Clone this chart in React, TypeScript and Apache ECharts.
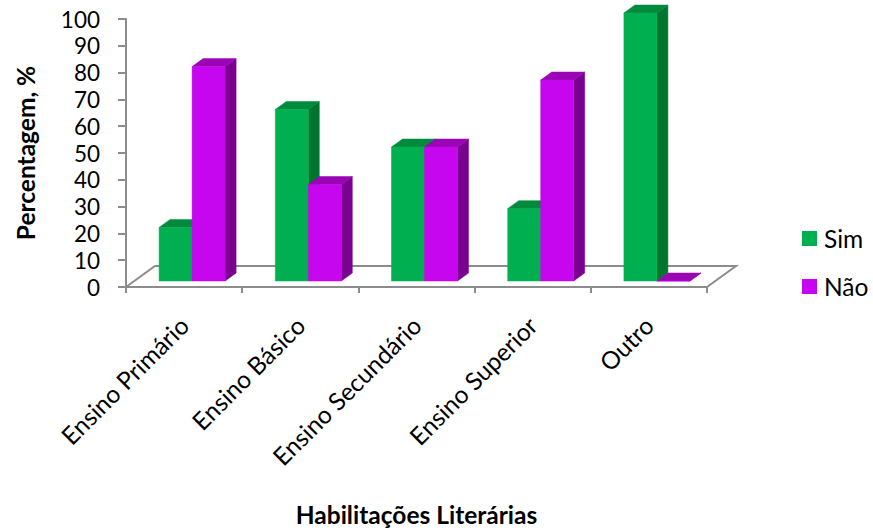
import React, { useEffect, useRef } from "react";
import * as echarts from "echarts";

const categories = ["Ensino Primário", "Ensino Básico", "Ensino Secundário", "Ensino Superior", "Outro"];
const simValues = [20, 64, 50, 27, 100];
const naoValues = [80, 36, 50, 75, 0];
const yTicks = { min: 0, max: 100, interval: 10 };

const FONT = "Lato";
const AXIS_GREY = "#8c8c8c";
const SIM = { front: "#00b050", top: "#008a3e", side: "#00752f" };
const NAO = { front: "#c506ee", top: "#9a04b4", side: "#7a0090" };

// Floor depth in pixels, and the shift of the bars onto the middle of that floor.
const FLOOR_DX = 29;
const FLOOR_DY = -21;
const BAR_SHIFT_X = 8;
const BAR_SHIFT_Y = -6;
const BAR_DX = 11;
const BAR_DY = -8;
const BAR_WIDTH_RATIO = 33 / 116.2;

// Draws one 3D column: front face, top and right side, from a category index and value.
function columnSeries(name: string, values: number[], colors: typeof SIM, side: -1 | 0) {
  return {
    name,
    type: "custom",
    coordinateSystem: "cartesian2d",
    itemStyle: { color: colors.front },
    encode: { x: 0, y: 1 },
    data: values.map((v, i) => [i, v]),
    z: 3 + (side === 0 ? 1 : 0),
    renderItem: (_p: any, api: any) => {
      const i = api.value(0);
      const top = api.coord([i, api.value(1)]);
      const base = api.coord([i, 0]);
      const w = api.size([1, 0])[0] * BAR_WIDTH_RATIO;
      const x0 = top[0] + BAR_SHIFT_X + (side === -1 ? -w : 0);
      const x1 = x0 + w;
      const yT = top[1] + BAR_SHIFT_Y;
      const yB = base[1] + BAR_SHIFT_Y;
      const poly = (points: number[][], fill: string) => ({
        type: "polygon",
        shape: { points },
        style: { fill, stroke: fill, lineWidth: 0.5 },
      });
      return {
        type: "group",
        children: [
          poly([[x1, yB], [x1 + BAR_DX, yB + BAR_DY], [x1 + BAR_DX, yT + BAR_DY], [x1, yT]], colors.side),
          poly([[x0, yT], [x0 + BAR_DX, yT + BAR_DY], [x1 + BAR_DX, yT + BAR_DY], [x1, yT]], colors.top),
          poly([[x0, yB], [x1, yB], [x1, yT], [x0, yT]], colors.front),
        ],
      };
    },
  };
}

// The floor outline behind the columns, anchored to the ends of the category axis.
const floorSeries = {
  type: "custom",
  coordinateSystem: "cartesian2d",
  silent: true,
  z: 1,
  data: [[0, 0]],
  renderItem: (_p: any, api: any) => {
    const band = api.size([1, 0])[0];
    const first = api.coord([0, 0]);
    const last = api.coord([categories.length - 1, 0]);
    const a = [first[0] - band / 2, first[1]];
    const b = [last[0] + band / 2, last[1]];
    return {
      type: "polyline",
      shape: {
        points: [a, [a[0] + FLOOR_DX, a[1] + FLOOR_DY], [b[0] + FLOOR_DX, b[1] + FLOOR_DY], b],
      },
      style: { fill: "none", stroke: AXIS_GREY, lineWidth: 2 },
    };
  },
};

export default function App() {
  const ref = useRef<HTMLDivElement>(null);
  useEffect(() => {
    document.body.style.margin = "0";
    const chart = echarts.init(ref.current!, undefined, { renderer: "svg" });
    chart.setOption({
      animation: false,
      backgroundColor: "#ffffff",
      textStyle: { fontFamily: FONT, color: "#000" },
      grid: { left: 126, top: 19, width: 581, height: 268, containLabel: false, outerBoundsMode: "none" },
      legend: {
        orient: "vertical",
        left: 797,
        top: 221,
        icon: "rect",
        itemWidth: 15,
        itemHeight: 15,
        itemGap: 23,
        data: ["Sim", "Não"],
        textStyle: { fontFamily: FONT, fontSize: 24.5, color: "#000", padding: [0, 0, 0, 2] },
      },
      xAxis: {
        type: "category",
        data: categories,
        name: "Habilitações Literárias",
        nameLocation: "middle",
        nameGap: 215,
        nameTextStyle: { fontFamily: FONT, fontSize: 24.5, fontWeight: "bold", color: "#000" },
        axisLine: { lineStyle: { color: AXIS_GREY, width: 2 } },
        axisTick: { show: true, length: 6, alignWithLabel: false, lineStyle: { color: AXIS_GREY, width: 2 } },
        axisLabel: { rotate: 45, interval: 0, margin: 34, fontFamily: FONT, fontSize: 24.5, color: "#000" },
        splitLine: { show: false },
      },
      yAxis: {
        type: "value",
        min: yTicks.min,
        max: yTicks.max,
        interval: yTicks.interval,
        name: "Percentagem, %",
        nameLocation: "middle",
        nameGap: 88,
        nameTextStyle: { fontFamily: FONT, fontSize: 24.5, fontWeight: "bold", color: "#000" },
        axisLine: { show: true, lineStyle: { color: AXIS_GREY, width: 2 } },
        axisTick: { show: true, length: 8, lineStyle: { color: AXIS_GREY, width: 2 } },
        axisLabel: { margin: 26, fontFamily: FONT, fontSize: 22.5, color: "#000" },
        splitLine: { show: false },
      },
      series: [floorSeries, columnSeries("Sim", simValues, SIM, -1), columnSeries("Não", naoValues, NAO, 0)],
    });
    return () => chart.dispose();
  }, []);
  return <div ref={ref} style={{ width: 873, height: 531 }} />;
}
